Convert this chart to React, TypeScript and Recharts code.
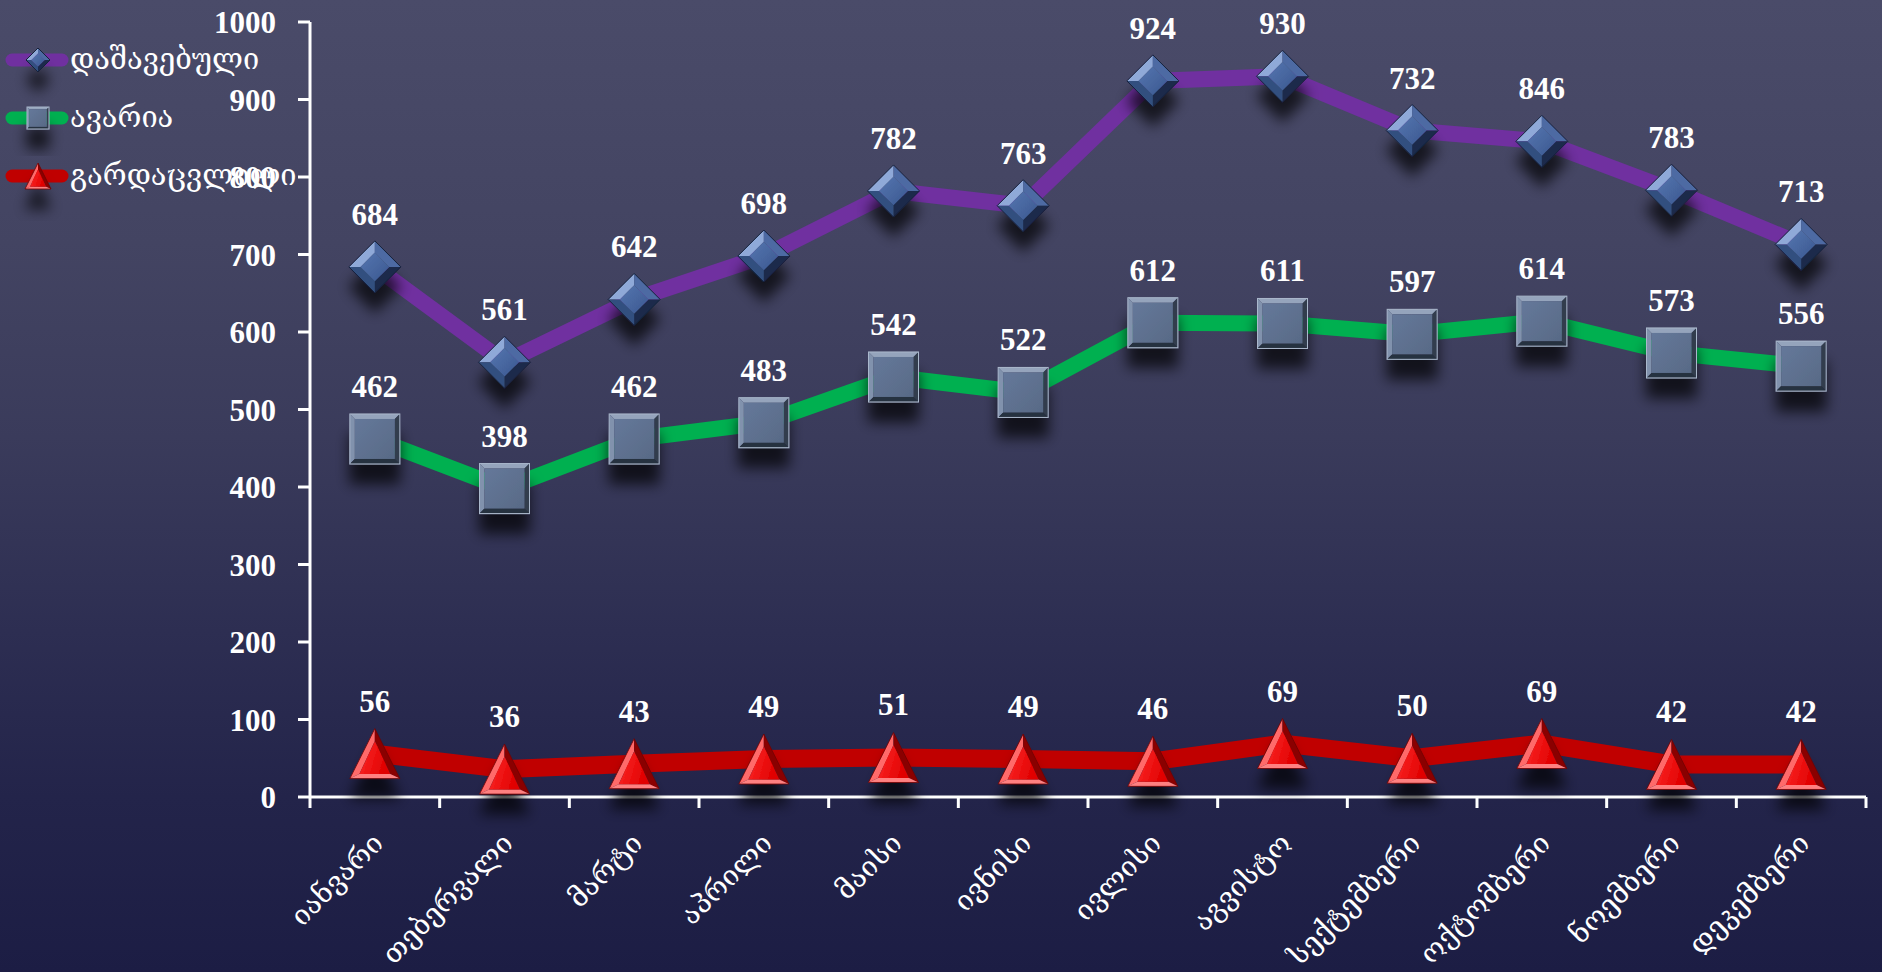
import React from 'react';
import { LineChart, Line, XAxis, YAxis, LabelList } from 'recharts';

const months = ['იანვარი', 'თებერვალი', 'მარტი', 'აპრილი', 'მაისი', 'ივნისი', 'ივლისი', 'აგვისტო', 'სექტემბერი', 'ოქტომბერი', 'ნოემბერი', 'დეკემბერი'];
const injured = [684, 561, 642, 698, 782, 763, 924, 930, 860, 846, 783, 713];
// the september label in the source reads 732 although its point sits near 860
const injuredLabels = ['684', '561', '642', '698', '782', '763', '924', '930', '732', '846', '783', '713'];
const accidents = [462, 398, 462, 483, 542, 522, 612, 611, 597, 614, 573, 556];
const deaths = [56, 36, 43, 49, 51, 49, 46, 69, 50, 69, 42, 42];
const yTicks = [0, 100, 200, 300, 400, 500, 600, 700, 800, 900, 1000];

const data = months.map((m, i) => ({
  month: m,
  injured: injured[i],
  injuredLabel: injuredLabels[i],
  accidents: accidents[i],
  deaths: deaths[i],
}));

const W = 1882;
const H = 972;
const PLOT_LEFT = 310;
const PLOT_RIGHT = 16;
const HALF_BAND = (W - PLOT_LEFT - PLOT_RIGHT) / months.length / 2;

const NUM_FONT = "'Liberation Serif', 'DejaVu Serif', serif";
const GEO_FONT = "'DejaVu Serif', 'DejaVu Sans', serif";

const pts = (arr: number[][]) => arr.map((p) => p.join(',')).join(' ');

function Diamond({ cx, cy, d = 26 }: { cx: number; cy: number; d?: number }) {
  const i = d * 0.55;
  return (
    <g transform={`translate(${cx},${cy})`} filter="url(#markShadow)">
      <polygon points={pts([[-d, 0], [0, -d], [0, -i], [-i, 0]])} fill="#8fa9d8" />
      <polygon points={pts([[0, -d], [d, 0], [i, 0], [0, -i]])} fill="#4d6ba3" />
      <polygon points={pts([[d, 0], [0, d], [0, i], [i, 0]])} fill="#1c2a4c" />
      <polygon points={pts([[0, d], [-d, 0], [-i, 0], [0, i]])} fill="#33507f" />
      <polygon points={pts([[0, -i], [i, 0], [0, i], [-i, 0]])} fill="url(#diamondFace)" />
      <polygon points={pts([[-d, 0], [0, -d], [d, 0], [0, d]])} fill="none" stroke="#16203a" strokeWidth={1} />
    </g>
  );
}

function Square({ cx, cy, s = 25 }: { cx: number; cy: number; s?: number }) {
  const i = s * 0.8;
  return (
    <g transform={`translate(${cx},${cy})`} filter="url(#markShadow)">
      <polygon points={pts([[-s, -s], [s, -s], [i, -i], [-i, -i]])} fill="#95a4bc" />
      <polygon points={pts([[-s, -s], [-i, -i], [-i, i], [-s, s]])} fill="#8192ad" />
      <polygon points={pts([[s, -s], [s, s], [i, i], [i, -i]])} fill="#323d4e" />
      <polygon points={pts([[-s, s], [-i, i], [i, i], [s, s]])} fill="#283140" />
      <rect x={-i} y={-i} width={2 * i} height={2 * i} fill="url(#squareFace)" />
      <rect x={-s} y={-s} width={2 * s} height={2 * s} fill="none" stroke="#aab8cc" strokeWidth={1} />
    </g>
  );
}

function Triangle({ cx, cy, h = 25 }: { cx: number; cy: number; h?: number }) {
  const a = [0, -h];
  const b = [h, h];
  const c = [-h, h];
  const ia = [0, -h * 0.5];
  const ib = [h * 0.62, h * 0.82];
  const ic = [-h * 0.62, h * 0.82];
  return (
    <g transform={`translate(${cx},${cy})`} filter="url(#markShadow)">
      <polygon points={pts([a, c, ic, ia])} fill="#ff6a6a" />
      <polygon points={pts([a, b, ib, ia])} fill="#8a0000" />
      <polygon points={pts([c, b, ib, ic])} fill="#ff8080" />
      <polygon points={pts([ia, ib, ic])} fill="url(#triFace)" />
      <polygon points={pts([a, b, c])} fill="none" stroke="#700000" strokeWidth={0.8} />
    </g>
  );
}

const markers: Record<string, (cx: number, cy: number, small?: boolean) => React.ReactElement> = {
  injured: (cx, cy, small) => <Diamond cx={cx} cy={cy} d={small ? 12 : 26} />,
  accidents: (cx, cy, small) => <Square cx={cx} cy={cy} s={small ? 11 : 25} />,
  deaths: (cx, cy, small) => <Triangle cx={cx} cy={cy} h={small ? 13 : 25} />,
};

const seriesMeta = [
  { key: 'injured', name: 'დაშავებული', color: '#7030a0' },
  { key: 'accidents', name: 'ავარია', color: '#00b050' },
  { key: 'deaths', name: 'გარდაცვლილი', color: '#c00000' },
];

function LegendBox() {
  return (
    <svg width={340} height={210} style={{ position: 'absolute', left: 0, top: 0, overflow: 'visible' }}>
      {seriesMeta.map((s, i) => {
        const y = 60 + i * 58;
        return (
          <g key={s.key}>
            <line x1={12} y1={y} x2={62} y2={y} stroke={s.color} strokeWidth={13} strokeLinecap="round" />
            {markers[s.key](38, y, true)}
            <text x={70} y={y + 9} fill="#fff" fontSize={29} fontFamily={GEO_FONT}>
              {s.name}
            </text>
          </g>
        );
      })}
    </svg>
  );
}

function MonthTick(props: any) {
  const { x, y, payload, index, visibleTicksCount } = props;
  const last = index === visibleTicksCount - 1;
  return (
    <g>
      <line x1={x - HALF_BAND} y1={y} x2={x - HALF_BAND} y2={y + 11} stroke="#fff" strokeWidth={3} />
      {last && <line x1={x + HALF_BAND} y1={y} x2={x + HALF_BAND} y2={y + 11} stroke="#fff" strokeWidth={3} />}
      <text
        x={0}
        y={0}
        transform={`translate(${x + 10},${y + 48}) rotate(-45)`}
        textAnchor="end"
        fill="#fff"
        fontSize={28}
        fontFamily={GEO_FONT}
      >
        {payload.value}
      </text>
    </g>
  );
}

function ValueLabel(props: any) {
  const { x, y, value } = props;
  return (
    <text x={x} y={y - 42} textAnchor="middle" fill="#fff" fontSize={31} fontWeight="bold" fontFamily={NUM_FONT}>
      {value}
    </text>
  );
}

export default function App() {
  return (
    <div
      style={{
        position: 'absolute',
        left: 0,
        top: 0,
        width: W,
        height: H,
        overflow: 'hidden',
        background: 'linear-gradient(180deg, #4a4b69 0%, #434462 25%, #3a3b5b 45%, #2d2e52 65%, #23244a 82%, #1c1d44 100%)',
      }}
    >
      <svg width={0} height={0} style={{ position: 'absolute' }}>
        <defs>
          <linearGradient id="diamondFace" x1="0" y1="0" x2="1" y2="1">
            <stop offset="0%" stopColor="#5676b0" />
            <stop offset="100%" stopColor="#3a5890" />
          </linearGradient>
          <linearGradient id="squareFace" x1="0" y1="0" x2="1" y2="1">
            <stop offset="0%" stopColor="#65789a" />
            <stop offset="100%" stopColor="#586a86" />
          </linearGradient>
          <linearGradient id="triFace" x1="0" y1="0" x2="1" y2="0.3">
            <stop offset="0%" stopColor="#ff2a2a" />
            <stop offset="100%" stopColor="#e00000" />
          </linearGradient>
          <filter id="markShadow" x="-80%" y="-80%" width="260%" height="300%">
            <feDropShadow dx="0" dy="20" stdDeviation="7" floodColor="#000000" floodOpacity="0.7" />
          </filter>
        </defs>
      </svg>
      <LineChart width={W} height={H} data={data} margin={{ top: 22, right: PLOT_RIGHT, bottom: 0, left: 0 }}>
        <XAxis
          dataKey="month"
          height={175}
          padding={{ left: HALF_BAND, right: HALF_BAND }}
          axisLine={{ stroke: '#ffffff', strokeWidth: 3 }}
          tickLine={false}
          tickSize={0}
          tickMargin={0}
          interval={0}
          tick={<MonthTick />}
        />
        <YAxis
          width={PLOT_LEFT}
          domain={[0, 1000]}
          ticks={yTicks}
          tickSize={12}
          tickMargin={22}
          axisLine={{ stroke: '#ffffff', strokeWidth: 3 }}
          tickLine={{ stroke: '#ffffff', strokeWidth: 3 }}
          tick={{ fill: '#ffffff', fontSize: 31, fontWeight: 'bold', fontFamily: NUM_FONT }}
        />
        <Line
          dataKey="injured"
          name="დაშავებული"
          stroke="#7030a0"
          strokeWidth={16}
          isAnimationActive={false}
          dot={(p: any) => <g key={`i${p.index}`}>{markers.injured(p.cx, p.cy)}</g>}
          activeDot={false}
        >
          <LabelList dataKey="injuredLabel" content={<ValueLabel />} />
        </Line>
        <Line
          dataKey="accidents"
          name="ავარია"
          stroke="#00b050"
          strokeWidth={16}
          isAnimationActive={false}
          dot={(p: any) => <g key={`a${p.index}`}>{markers.accidents(p.cx, p.cy)}</g>}
          activeDot={false}
        >
          <LabelList dataKey="accidents" content={<ValueLabel />} />
        </Line>
        <Line
          dataKey="deaths"
          name="გარდაცვლილი"
          stroke="#c00000"
          strokeWidth={18}
          isAnimationActive={false}
          dot={(p: any) => <g key={`d${p.index}`}>{markers.deaths(p.cx, p.cy)}</g>}
          activeDot={false}
        >
          <LabelList dataKey="deaths" content={<ValueLabel />} />
        </Line>
      </LineChart>
      <LegendBox />
    </div>
  );
}
